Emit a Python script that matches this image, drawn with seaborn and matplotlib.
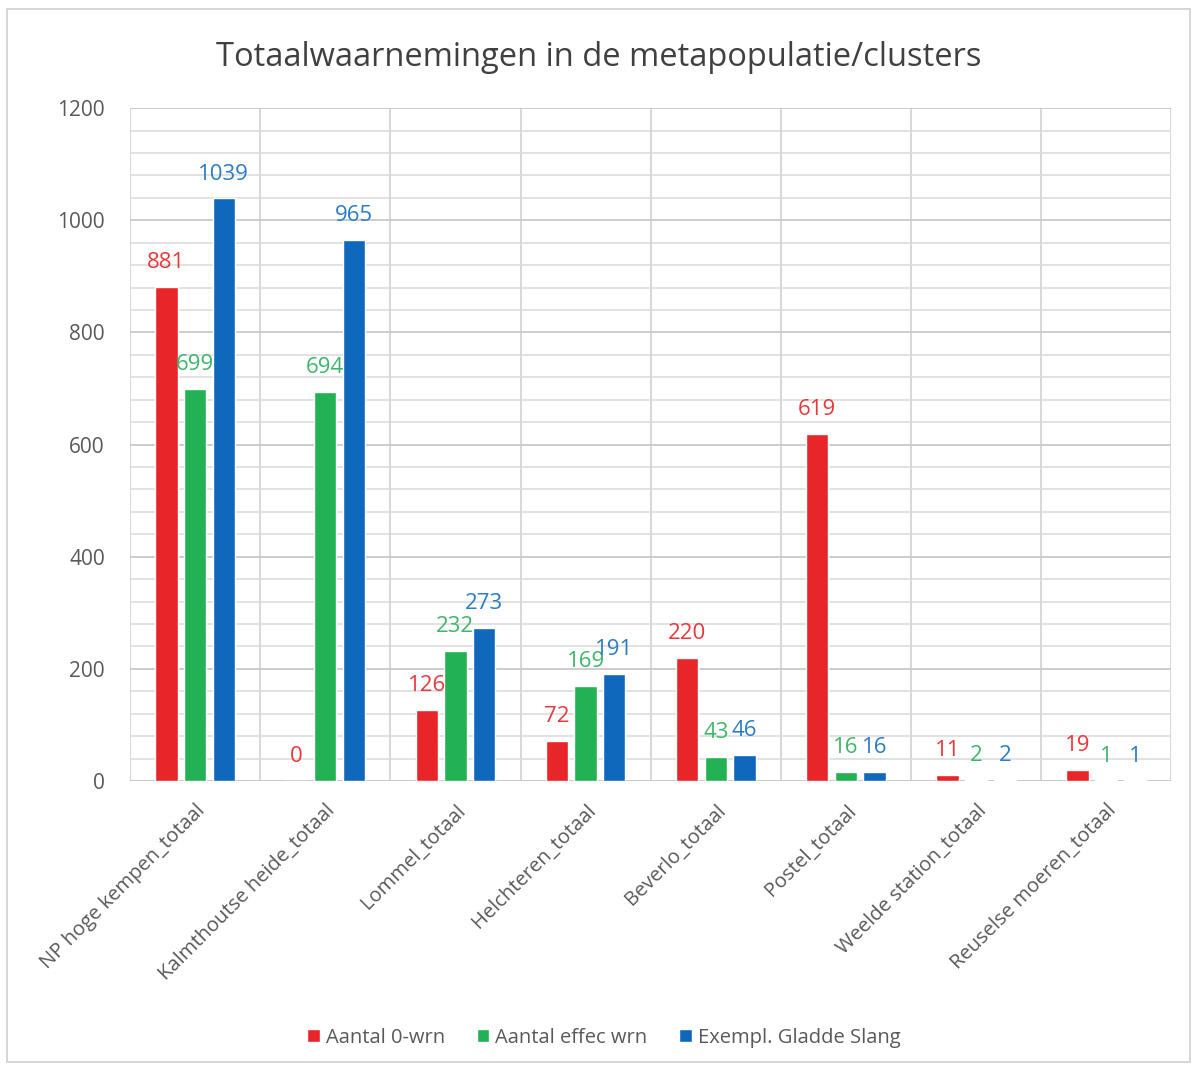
import numpy as np
import pandas as pd
import matplotlib.pyplot as plt
from matplotlib.ticker import MultipleLocator
import seaborn as sns

# values
clusters = ["NP hoge kempen_totaal", "Kalmthoutse heide_totaal", "Lommel_totaal",
            "Helchteren_totaal", "Beverlo_totaal", "Postel_totaal",
            "Weelde station_totaal", "Reuselse moeren_totaal"]
series_names = ["Aantal 0-wrn", "Aantal effec wrn", "Exempl. Gladde Slang"]
nul_wrn = [881, 0, 126, 72, 220, 619, 11, 19]
effec_wrn = [699, 694, 232, 169, 43, 16, 2, 1]
gladde_slang = [1039, 965, 273, 191, 46, 16, 2, 1]

colors = ["#E8262A", "#22B153", "#1068BD"]
label_colors = ["#E8383C", "#3DB66A", "#2A7CC8"]

df = pd.DataFrame({
    "cluster": clusters * 3,
    "serie": np.repeat(series_names, len(clusters)),
    "waarde": nul_wrn + effec_wrn + gladde_slang,
})

sns.set_style("white")
plt.rcParams['font.family'] = ['Open Sans', 'DejaVu Sans']

fig = plt.figure(figsize=(11.97, 10.68), dpi=100)
ax = fig.add_axes([0.1086, 0.2687, 0.870, 0.630])

sns.barplot(data=df, x="cluster", y="waarde", hue="serie", hue_order=series_names,
            palette=colors, width=0.66, gap=0.22, saturation=1, ax=ax, zorder=3)

# data labels in series colour
for cont, col in zip(ax.containers, label_colors):
    ax.bar_label(cont, padding=10, color=col, fontsize=16)

ax.set_ylim(0, 1200)
ax.set_xlim(-0.5, len(clusters) - 0.5)
ax.yaxis.set_major_locator(MultipleLocator(200))
ax.yaxis.set_minor_locator(MultipleLocator(40))
ax.set_xticks(np.arange(-0.5, len(clusters), 0.5), minor=True)
ax.grid(which="major", axis="y", color="#C8C8C8", lw=1.3, zorder=0)
ax.grid(which="minor", axis="both", color="#DADADA", lw=1.1, zorder=0)
for x in np.arange(-0.5, len(clusters), 1.0):
    ax.axvline(x, color="#C8C8C8", lw=1.1, zorder=0)
ax.tick_params(axis="both", which="both", length=0)
ax.tick_params(axis="y", labelsize=15, labelcolor="#595959", pad=18)
ax.set_xticks(range(len(clusters)))
ax.set_xticklabels(clusters, rotation=45, ha="right", rotation_mode="anchor",
                   fontsize=14.5, color="#595959")
ax.tick_params(axis="x", pad=14)
for s in ax.spines.values():
    s.set_visible(False)
ax.axhline(0, color="#C8C8C8", lw=1.3, zorder=2)
ax.set_xlabel("")
ax.set_ylabel("")

fig.suptitle("Totaalwaarnemingen in de metapopulatie/clusters", y=0.962,
             fontsize=23.5, color="#404040")

ax.legend(loc="upper center", bbox_to_anchor=(0.455, -0.34), ncol=3, frameon=False,
          fontsize=14.5, labelcolor="#595959", handlelength=0.6, handleheight=0.6,
          handletextpad=0.3, columnspacing=1.6)

fig.add_artist(plt.Rectangle((0.006, 0.006), 0.988, 0.986, transform=fig.transFigure,
                             fill=False, edgecolor="#D0D0D0", lw=1.2))

fig.savefig("out.png", dpi=100)
